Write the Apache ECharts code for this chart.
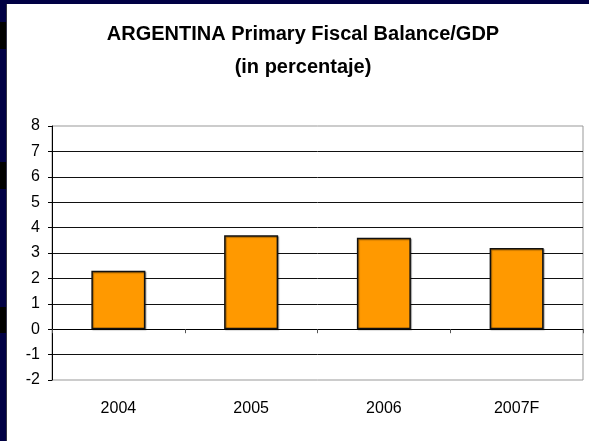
<!DOCTYPE html>
<html>
<head>
<meta charset="utf-8">
<script src="https://cdn.jsdelivr.net/npm/echarts@6/dist/echarts.min.js"></script>
<style>
  html, body { margin: 0; padding: 0; background: #000044; }
  #chart { width: 589px; height: 441px; }
</style>
</head>
<body>
<div id="chart"></div>
<script>
const categories = ['2004', '2005', '2006', '2007F'];
const balanceValues = [2.3, 3.7, 3.6, 3.2];
const yTicks = [-2, -1, 0, 1, 2, 3, 4, 5, 6, 7, 8];

const chart = echarts.init(document.getElementById('chart'));

const option = {
  backgroundColor: '#000044',
  animation: false,
  graphic: [
    // white slide panel and the dark marks in the left strip
    { type: 'rect', left: 7, top: 4, shape: { width: 582, height: 437 }, style: { fill: '#ffffff' }, z: -10 },
    { type: 'rect', left: 6, top: 4, shape: { width: 1, height: 437 }, style: { fill: '#333344' }, z: -10 },
    { type: 'rect', left: 0, top: 22, shape: { width: 6, height: 27 }, style: { fill: '#000000' }, z: -10 },
    { type: 'rect', left: 0, top: 162, shape: { width: 6, height: 27 }, style: { fill: '#000000' }, z: -10 },
    { type: 'rect', left: 0, top: 307, shape: { width: 6, height: 26 }, style: { fill: '#000000' }, z: -10 }
  ],
  title: {
    text: 'ARGENTINA Primary Fiscal Balance/GDP\n(in percentaje)',
    left: 298,
    textAlign: 'center',
    top: 13,
    textStyle: {
      fontFamily: 'Liberation Sans, Arial, sans-serif',
      fontSize: 20,
      fontWeight: 'bold',
      color: '#000',
      lineHeight: 33
    }
  },
  grid: {
    left: 52,
    right: 6,
    top: 126,
    bottom: 61,
    outerBoundsMode: 'none',
    containLabel: false,
    show: true,
    borderColor: '#999999',
    borderWidth: 1,
    backgroundColor: 'transparent'
  },
  xAxis: [
    {
      // category labels along the bottom of the plot
      type: 'category',
      data: categories,
      position: 'bottom',
      axisLine: { show: false, onZero: false },
      axisTick: { show: false },
      axisLabel: {
        margin: 21,
        color: '#000',
        fontFamily: 'Liberation Sans, Arial, sans-serif',
        fontSize: 16
      },
      splitLine: { show: false }
    },
    {
      // zero line with the small category ticks
      type: 'category',
      data: categories,
      position: 'top',
      axisLine: { show: true, onZero: true, lineStyle: { color: '#000', width: 1 } },
      axisTick: { show: true, inside: true, length: 4, lineStyle: { color: '#555' } },
      axisLabel: { show: false },
      splitLine: { show: false }
    }
  ],
  yAxis: {
    type: 'value',
    min: yTicks[0],
    max: yTicks[yTicks.length - 1],
    interval: 1,
    axisLine: { show: true, lineStyle: { color: '#000', width: 1 } },
    axisTick: { show: true, length: 4, lineStyle: { color: '#000' } },
    axisLabel: {
      margin: 12,
      color: '#000',
      fontFamily: 'Liberation Sans, Arial, sans-serif',
      fontSize: 16
    },
    splitLine: {
      show: true,
      showMinLine: false,
      showMaxLine: false,
      lineStyle: { color: '#111', width: 1 }
    }
  },
  series: [
    {
      type: 'bar',
      data: balanceValues,
      barWidth: 54,
      itemStyle: {
        color: '#FF9900',
        borderColor: '#111',
        borderWidth: 1.5,
        shadowColor: 'rgba(0,0,0,0.35)',
        shadowOffsetX: 1,
        shadowOffsetY: 1,
        shadowBlur: 1
      }
    }
  ]
};

chart.setOption(option);
</script>
</body>
</html>
